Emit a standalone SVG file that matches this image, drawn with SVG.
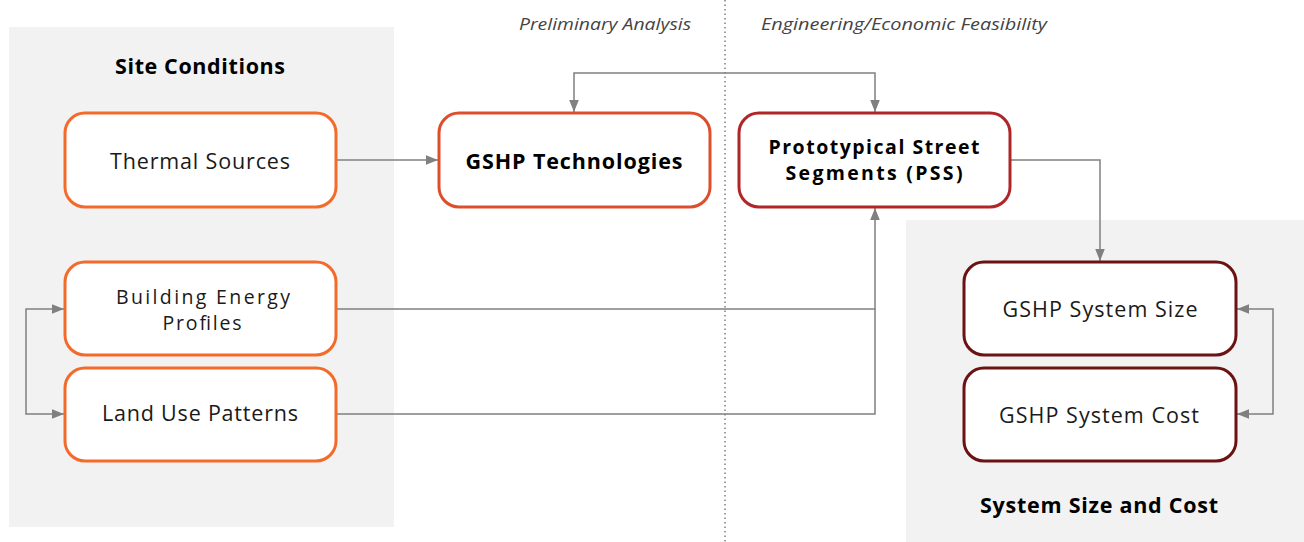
<svg xmlns="http://www.w3.org/2000/svg" width="1304" height="542" viewBox="0 0 1304 542">
<style>
.panel{fill:#f2f2f2}
.node{fill:#fff;stroke-width:3}
.orange{stroke:#f26b2b}
.redor{stroke:#dd4f2c}
.red{stroke:#b02628}
.dark{stroke:#6b1212}
.t{font-family:"Open Sans","Liberation Sans",sans-serif;font-size:21.5px;fill:#1a1a1a;text-anchor:middle}
.t2{font-size:19.5px}
.b{font-weight:bold;fill:#000}
.h{font-family:"Open Sans","Liberation Sans",sans-serif;font-size:21.5px;font-weight:bold;fill:#000;text-anchor:middle}
.it{font-family:"Open Sans","Liberation Sans",sans-serif;font-size:17px;font-style:italic;fill:#444}
.c{fill:none;stroke:#808080;stroke-width:1.5}
</style>
<defs>
<marker id="ah" viewBox="0 0 10 10" refX="10" refY="5" markerWidth="12" markerHeight="12" markerUnits="userSpaceOnUse" orient="auto">
<path d="M0,1 L10,5 L0,9 Z" fill="#808080"/>
</marker>
</defs>
<g id="panels">
<rect class="panel" x="9" y="27" width="385" height="500"/>
<rect class="panel" x="906" y="220" width="398" height="322"/>
</g>
<line x1="725" y1="0" x2="725" y2="542" stroke="#808080" stroke-width="1.5" stroke-dasharray="1.5 3"/>
<text class="it" x="519" y="30" textLength="172" lengthAdjust="spacingAndGlyphs">Preliminary Analysis</text>
<text class="it" x="761" y="30" textLength="286" lengthAdjust="spacingAndGlyphs">Engineering/Economic Feasibility</text>
<text class="h" x="200" y="74" textLength="170">Site Conditions</text>
<text class="h" x="1099" y="513" textLength="238">System Size and Cost</text>
<g id="connectors">
<path class="c" d="M336,160 H438" marker-end="url(#ah)"/>
<path class="c" d="M725,73 H574 V112" marker-end="url(#ah)"/>
<path class="c" d="M725,73 H875 V112" marker-end="url(#ah)"/>
<path class="c" d="M336,309 H875 V208" marker-end="url(#ah)"/>
<path class="c" d="M336,414 H875 V309"/>
<path class="c" d="M1010,160 H1100 V261" marker-end="url(#ah)"/>
<path class="c" d="M26,361 V309 H64" marker-end="url(#ah)"/>
<path class="c" d="M26,361 V414 H64" marker-end="url(#ah)"/>
<path class="c" d="M1273,361 V309 H1237" marker-end="url(#ah)"/>
<path class="c" d="M1273,361 V414 H1237" marker-end="url(#ah)"/>
</g>
<g id="thermal">
<rect class="node orange" x="65" y="113" width="271" height="94" rx="20"/>
<text class="t" x="200" y="169" textLength="180">Thermal Sources</text>
</g>
<g id="building">
<rect class="node orange" x="65" y="262" width="271" height="93" rx="20"/>
<text class="t t2" x="203" y="303.5" textLength="174">Building Energy</text>
<text class="t t2" x="202" y="330" textLength="79">Profiles</text>
</g>
<g id="landuse">
<rect class="node orange" x="65" y="368" width="271" height="93" rx="20"/>
<text class="t" x="200" y="421" textLength="196">Land Use Patterns</text>
</g>
<g id="gshptech">
<rect class="node redor" x="439" y="113" width="271" height="94" rx="20"/>
<text class="t b" x="574" y="169" textLength="217">GSHP Technologies</text>
</g>
<g id="pss">
<rect class="node red" x="739" y="113" width="271" height="94" rx="20"/>
<text class="t t2 b" x="874" y="153.5" textLength="211">Prototypical Street</text>
<text class="t t2 b" x="874" y="180" textLength="177">Segments (PSS)</text>
</g>
<g id="size">
<rect class="node dark" x="964" y="262" width="272" height="93" rx="20"/>
<text class="t" x="1100" y="317" textLength="195">GSHP System Size</text>
</g>
<g id="cost">
<rect class="node dark" x="964" y="368" width="272" height="93" rx="20"/>
<text class="t" x="1099" y="423" textLength="200">GSHP System Cost</text>
</g>
</svg>
